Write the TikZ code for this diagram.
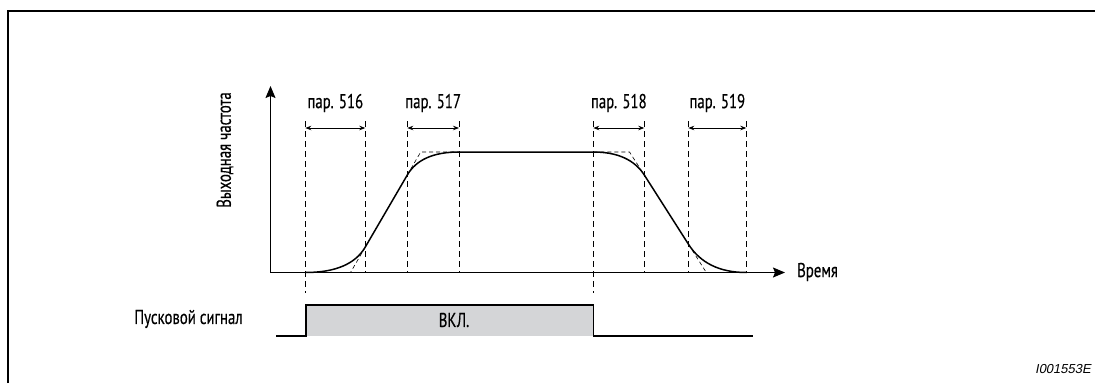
\documentclass[tikz,border=0pt]{standalone}
\usepackage{fontspec}
\setmainfont{PT Sans}[FakeStretch=0.74,FakeBold=0.4]
\newfontfamily\idfont{Liberation Sans}[FakeSlant=0.2]
\usetikzlibrary{arrows.meta}
\definecolor{sigfill}{RGB}{212,213,215}
\tikzset{
  axis/.style={line width=1.3pt,-{Stealth[length=12pt,width=10pt,inset=2pt]}},
  curve/.style={line width=1.5pt},
  guide/.style={line width=0.9pt,dash pattern=on 6pt off 4pt},
  helper/.style={line width=0.6pt,dash pattern=on 4pt off 3pt},
  dim/.style={line width=0.8pt,{Stealth[length=6pt,width=4.5pt]}-{Stealth[length=6pt,width=4.5pt]}},
  lbl/.style={font=\fontsize{20}{22}\selectfont,inner sep=0pt},
  signal/.style={line width=1.3pt},
}
\begin{document}
\begin{tikzpicture}[x=1pt,y=-1pt]
\useasboundingbox (0,0) rectangle (1095,383);
% frame
\draw[line width=2pt] (8,383) -- (8,11) -- (1095,11);
% axes
\coordinate (O) at (270.5,272.5);
\coordinate (Ytip) at (270.5,86);
\coordinate (Xtip) at (785,272.5);
\draw[axis] (O) -- (Ytip);
\draw[axis] (O) -- (Xtip);
\node[lbl,anchor=west] (time) at (797,272) {Время};
\node[lbl,rotate=90] (freq) at (225,150) {Выходная частота};
% guide lines
\foreach \n/\x/\b in {a/305.3/293,b/365.3/272,c/407.3/272,d/459/272,e/593.3/293,f/644.3/272,g/688.3/272,h/746.3/272}{
  \coordinate (\n t) at (\x,121);
  \coordinate (\n b) at (\x,\b);
  \draw[guide] (\n t) -- (\n b);
}
% dimension arrows
\foreach \l/\r/\t in {a/b/516,c/d/517,e/f/518,g/h/519}{
  \draw[dim] ([yshift=-7pt]\l t) -- ([yshift=-7pt]\r t);
  \path ([yshift=18pt]\l t) -- node[lbl] (p\t) {пар. \t} ([yshift=18pt]\r t);
}
% curve points
\coordinate (c0) at (305.3,272.5);
\coordinate (k1) at (350.5,272.5);
\coordinate (c1) at (365.3,247);
\coordinate (c2) at (407.3,175);
\coordinate (k2) at (420.7,152);
\coordinate (c3) at (459,152);
\coordinate (c4) at (593.3,152);
\coordinate (k3) at (629.5,152);
\coordinate (c5) at (644.3,175);
\coordinate (c6) at (688.3,244);
\coordinate (k4) at (706.3,272.5);
\coordinate (c7) at (746.3,272.5);
% helper dashed tangents
\draw[helper] (c1) -- (k1);
\draw[helper] (c2) -- (k2) -- (c3);
\draw[helper] (c4) -- (k3) -- (c5);
\draw[helper] (c6) -- (k4);
% frequency curve (quadratic arcs written as cubic)
\draw[curve] (c0) .. controls (335.4,272.5) and (355.4,264) .. (c1) -- (c2)
  .. controls (416.2,159.7) and (433.5,152) .. (c3) -- (c4)
  .. controls (617.4,152) and (634.4,159.7) .. (c5) -- (c6)
  .. controls (700.3,263) and (719.6,272.5) .. (c7);
% start signal
\coordinate (s0) at (276,336);
\coordinate (s1) at (306,336);
\coordinate (s2) at (306,305);
\coordinate (s3) at (593.3,305);
\coordinate (s4) at (593.3,336);
\coordinate (s5) at (752.5,336);
\fill[sigfill] (s1) rectangle (s3);
\draw[signal] (s0) -- (s1) -- (s2) -- (s3) -- (s4) -- (s5);
\node[lbl] (on) at (454,320) {ВКЛ.};
\node[lbl,anchor=east] (start) at (243,319) {Пусковой сигнал};
\node[font=\idfont\fontsize{13}{15}\selectfont,inner sep=0pt,anchor=east] (id) at (1091,369) {I001553E};
\end{tikzpicture}
\end{document}
